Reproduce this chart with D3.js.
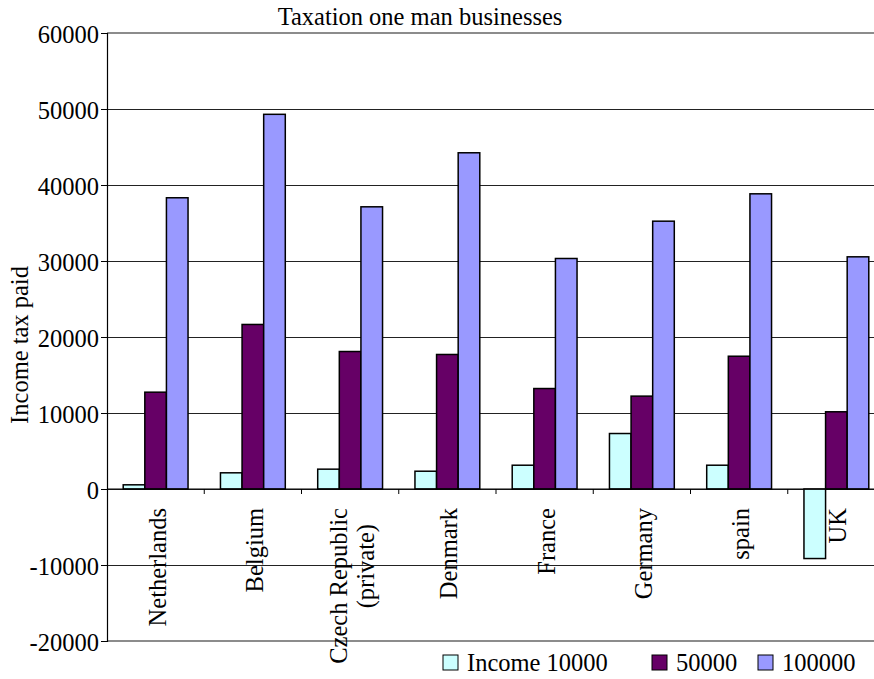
<!DOCTYPE html>
<html>
<head>
<meta charset="utf-8">
<script src="https://cdn.jsdelivr.net/npm/d3@7/dist/d3.min.js"></script>
<style>
  html, body { margin: 0; padding: 0; background: #fff; }
  svg { display: block; }
  svg text { font-family: "Liberation Serif", "Times New Roman", serif; }
</style>
</head>
<body>
<svg id="chart" width="874" height="679"></svg>
<script>
// Countries (a "\n" breaks a label onto a second line)
const categories = ["Netherlands", "Belgium", "Czech Republic\n(private)", "Denmark", "France", "Germany", "spain", "UK"];
const seriesNames = ["Income 10000", "50000", "100000"];
const income10000 = [550, 2130, 2610, 2340, 3130, 7300, 3130, -9150];
const income50000 = [12740, 21650, 18090, 17700, 13220, 12220, 17470, 10160];
const income100000 = [38320, 49300, 37130, 44240, 30330, 35240, 38840, 30550];
const seriesColors = ["#CCFFFF", "#660066", "#9999FF"];
const yTicks = [-20000, -10000, 0, 10000, 20000, 30000, 40000, 50000, 60000];

const seriesValues = [income10000, income50000, income100000];
const rows = categories.map((c, i) => ({ cat: c, vals: seriesValues.map(s => s[i]) }));

const svg = d3.select("#chart");
const fontSize = 24.5;
const serif = "Liberation Serif, Times New Roman, serif";

// Plot area (right edge runs past the visible window)
const plotLeft = 107, plotRight = 885, plotTop = 33, plotBottom = 641;

const x = d3.scaleBand().domain(categories).range([plotLeft, plotRight]).paddingInner(0).paddingOuter(0);
const y = d3.scaleLinear().domain([-20000, 60000]).range([plotBottom, plotTop]);

// Bars: gap width 150% of a bar, three bars per group
const barW = x.bandwidth() / 4.5;
const xs = d3.scaleBand().domain(d3.range(seriesNames.length))
  .range([barW * 0.75, barW * 0.75 + barW * 3]);

// Gridlines
svg.append("g").selectAll("line")
  .data(yTicks.filter(t => t !== 60000 && t !== -20000))
  .join("line")
  .attr("x1", plotLeft).attr("x2", plotRight)
  .attr("y1", d => Math.round(y(d)) + 0.5).attr("y2", d => Math.round(y(d)) + 0.5)
  .attr("stroke", "#222").attr("stroke-width", 1);

// Top and bottom border of the plot area
svg.append("g").selectAll("line")
  .data([60000, -20000])
  .join("line")
  .attr("x1", plotLeft).attr("x2", plotRight)
  .attr("y1", d => y(d)).attr("y2", d => y(d))
  .attr("stroke", "#8c8c8c").attr("stroke-width", 2);

// Bars
const groups = svg.append("g").selectAll("g")
  .data(rows).join("g")
  .attr("transform", d => `translate(${x(d.cat)},0)`);

groups.selectAll("rect")
  .data(d => d.vals.map((v, k) => ({ v, k })))
  .join("rect")
  .attr("x", d => xs(d.k))
  .attr("width", xs.bandwidth())
  .attr("y", d => y(Math.max(0, d.v)))
  .attr("height", d => Math.abs(y(d.v) - y(0)))
  .attr("fill", d => seriesColors[d.k])
  .attr("stroke", "#000")
  .attr("stroke-width", 1.5);

// Zero line with category tick marks
svg.append("line")
  .attr("x1", plotLeft).attr("x2", plotRight)
  .attr("y1", y(0)).attr("y2", y(0))
  .attr("stroke", "#000").attr("stroke-width", 1.2);

svg.append("g").selectAll("line")
  .data(categories.slice(1))
  .join("line")
  .attr("x1", d => x(d)).attr("x2", d => x(d))
  .attr("y1", y(0)).attr("y2", y(0) + 5)
  .attr("stroke", "#000").attr("stroke-width", 1);

// Y axis (plain hyphen for negative numbers)
const yAxis = d3.axisLeft(y).tickValues(yTicks).tickSize(6).tickPadding(2).tickFormat(d => String(d));
const yg = svg.append("g").attr("transform", `translate(${plotLeft},0)`).call(yAxis);
yg.attr("font-family", serif).attr("font-size", fontSize);
yg.select(".domain").attr("stroke", "#000").attr("stroke-width", 1.2);
yg.selectAll(".tick line").attr("stroke", "#000");
yg.selectAll(".tick text")
  .attr("fill", "#000")
  .attr("dy", "0.38em");

// Category labels, rotated to read upward
const labelTop = y(0) + 19;
const labelG = svg.append("g").selectAll("g")
  .data(categories).join("g");
labelG.each(function (c) {
  const lines = c.split("\n");
  const cx = x(c) + x.bandwidth() / 2;
  const lineGap = 27;
  lines.forEach((ln, i) => {
    const bx = cx + 10 + (i - (lines.length - 1) / 2) * lineGap;
    const endY = labelTop + i * 16;
    d3.select(this).append("text")
      .attr("transform", `translate(${bx},${endY}) rotate(-90)`)
      .attr("text-anchor", "end")
      .attr("font-family", serif)
      .attr("font-size", fontSize)
      .attr("fill", "#000")
      .text(ln);
  });
});

// Title
svg.append("text")
  .attr("x", 420).attr("y", 25)
  .attr("text-anchor", "middle")
  .attr("font-family", serif)
  .attr("font-size", fontSize)
  .attr("fill", "#000")
  .text("Taxation one man businesses");

// Y axis title
svg.append("text")
  .attr("transform", `translate(28,${(plotTop + plotBottom) / 2 + 8}) rotate(-90)`)
  .attr("text-anchor", "middle")
  .attr("font-family", serif)
  .attr("font-size", fontSize)
  .attr("fill", "#000")
  .text("Income tax paid");

// Legend: one swatch + label per series, laid out along the bottom
const legendItemX = [443, 652, 758];
const sq = 15, legY = 655;
const legend = svg.append("g").selectAll("g")
  .data(seriesNames).join("g")
  .attr("transform", (d, k) => `translate(${legendItemX[k]},0)`);
legend.append("rect")
  .attr("x", 0).attr("y", legY)
  .attr("width", sq).attr("height", sq)
  .attr("fill", (d, k) => seriesColors[k])
  .attr("stroke", "#000").attr("stroke-width", 1);
legend.append("text")
  .attr("x", sq + 9).attr("y", 671)
  .attr("font-family", serif)
  .attr("font-size", fontSize)
  .attr("fill", "#000")
  .text(d => d);
</script>
</body>
</html>
